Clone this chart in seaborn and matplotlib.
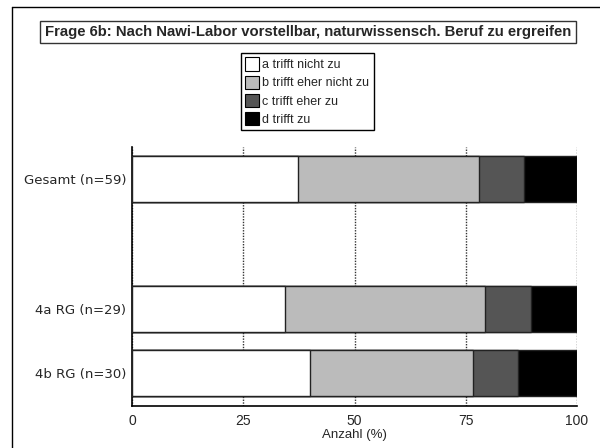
import matplotlib
matplotlib.use("Agg")
import matplotlib.pyplot as plt
from matplotlib.patches import Patch
from matplotlib.lines import Line2D
import seaborn as sns
import pandas as pd
import numpy as np

title = "Frage 6b: Nach Nawi-Labor vorstellbar, naturwissensch. Beruf zu ergreifen"
groups = ["Gesamt (n=59)", "", "4a RG (n=29)", "4b RG (n=30)"]
data_groups = ["Gesamt (n=59)", "4a RG (n=29)", "4b RG (n=30)"]
counts_n = [59, 29, 30]
answers = ["a trifft nicht zu", "b trifft eher nicht zu", "c trifft eher zu", "d trifft zu"]
a_vals = [22, 10, 12]
b_vals = [24, 13, 11]
c_vals = [6, 3, 3]
d_vals = [7, 3, 4]
colors = ["#ffffff", "#bbbbbb", "#555555", "#000000"]
xticks = [0, 25, 50, 75, 100]
xlabel = "Anzahl (%)"

sns.set_theme(style="white")
plt.rcParams["font.family"] = ["DejaVu Sans"]
narrow = ["Liberation Sans Narrow", "Liberation Sans", "DejaVu Sans"]

pct = np.array([a_vals, b_vals, c_vals, d_vals], dtype=float) / np.array(counts_n) * 100
cum = np.cumsum(pct, axis=0)

fig = plt.figure(figsize=(6.0, 4.48), dpi=100)
ax = fig.add_axes([0.22, 0.0944, 0.7417, 0.578])

for i in range(3, -1, -1):
    df = pd.DataFrame({"grp": data_groups, "val": cum[i]})
    sns.barplot(data=df, y="grp", x="val", order=groups, orient="h",
                color=colors[i], edgecolor="#222222", linewidth=1.0,
                width=0.71, saturation=1, ax=ax, zorder=3)

ax.set_xlim(0, 100)
ax.set_ylim(3.5, -0.5)
ax.set_xticks(xticks)
ax.set_xticklabels([str(t) for t in xticks], family=narrow, fontsize=10)
ax.tick_params(axis="y", length=0, labelsize=9.5, pad=4)
ax.tick_params(axis="x", length=4, width=1, color="black", direction="out", pad=2)
ax.set_ylabel("")
ax.set_xlabel(xlabel, family=narrow, fontsize=9.5, labelpad=1)
for s in ["top", "right"]:
    ax.spines[s].set_visible(False)
for s in ["left", "bottom"]:
    ax.spines[s].set_color("black")
    ax.spines[s].set_linewidth(1.2)
ax.xaxis.grid(True, linestyle=(0, (1, 1)), color="#333333", linewidth=1.0, zorder=0)
ax.set_axisbelow(True)

# title box
fig.text(0.5133, 0.9286, title, ha="center", va="center", fontsize=10.7,
         fontweight="bold", family=["Liberation Sans", "DejaVu Sans"],
         bbox=dict(boxstyle="square,pad=0.3", facecolor="white", edgecolor="#333333", linewidth=1.0))

# legend
handles = [Patch(facecolor=colors[i], edgecolor="black", linewidth=0.8, label=answers[i]) for i in range(4)]
fig.legend(handles=handles, loc="upper left", bbox_to_anchor=(241/600, 1 - 53/448),
           frameon=True, fancybox=False, edgecolor="black", framealpha=1,
           prop={"family": narrow, "size": 9.0}, handlelength=1.05, handleheight=1.25,
           handletextpad=0.3, labelspacing=0.35, borderpad=0.35, borderaxespad=0)

# outer frame (left and top edges)
fig.add_artist(Line2D([12/600, 12/600], [0, 1 - 7/448], color="black", linewidth=1.0))
fig.add_artist(Line2D([12/600, 1], [1 - 7/448, 1 - 7/448], color="black", linewidth=1.0))

fig.savefig("out.png", dpi=100)
